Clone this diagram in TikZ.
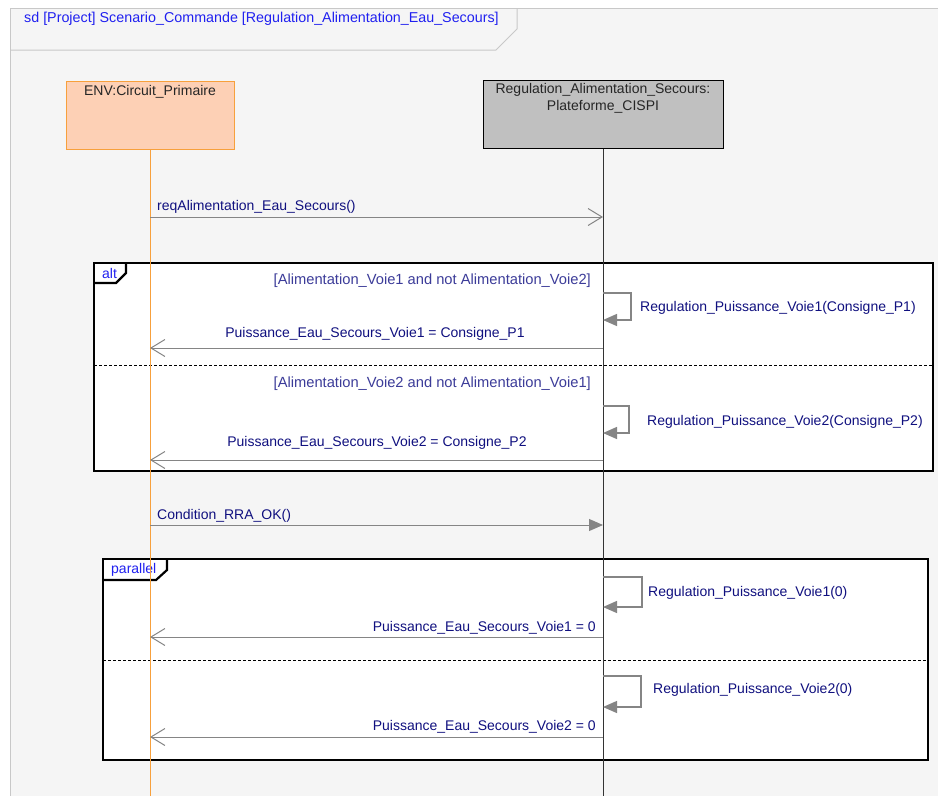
\documentclass[tikz,border=0pt]{standalone}
\usepackage{fontspec}
\setmainfont{Liberation Sans}
\usetikzlibrary{arrows.meta,positioning}

\definecolor{bggray}{HTML}{F5F5F5}
\definecolor{framegray}{HTML}{C8C8C8}
\definecolor{envfill}{HTML}{FDD0B5}
\definecolor{envorange}{HTML}{F7A03C}
\definecolor{regfill}{HTML}{C0C0C0}
\definecolor{msggray}{HTML}{858585}
\definecolor{msgblue}{HTML}{10107F}
\definecolor{guardblue}{HTML}{3C3C99}
\definecolor{tabblue}{HTML}{2020F0}

\tikzset{
    headbox/.style={draw, line width=1pt, minimum height=68pt, inner sep=0pt},
    headtext/.style={anchor=north, inner sep=0pt, align=center, text=black!85},
    msgtext/.style={inner sep=0pt, text=msgblue},
    guardtext/.style={inner sep=0pt, anchor=east, text=guardblue, font=\fontsize{14.7}{17}\selectfont},
    tabtext/.style={inner sep=0pt, anchor=west, text=tabblue},
    fragment/.style={draw=black, line width=2.2pt},
    separator/.style={draw=black, line width=0.7pt, dash pattern=on 3pt off 2pt},
    call/.style={draw=msggray, line width=1pt, -{Straight Barb[length=14pt,width=17pt]}},
    synccall/.style={draw=msggray, line width=1pt, -{Triangle[length=14pt,width=12pt]}},
    selfcall/.style={draw=msggray, line width=1.3pt, -{Triangle[length=14pt,width=12pt]}}
}

\begin{document}
\begin{tikzpicture}[x=1pt, y=-1pt, font=\fontsize{14}{17}\selectfont]
    \useasboundingbox[fill=white] (0,0) rectangle (938,796);
    % diagram frame
    \fill[bggray] (10,8) rectangle (938,796);
    \draw[framegray, line width=1pt] (938,8) -- (10,8) -- (10,796);
    \draw[framegray, line width=1pt] (10,50) -- (496,50) -- (517,29) -- (517,8);
    \node[tabtext, font=\fontsize{14.3}{17}\selectfont] (title) at (24,19) {sd [Project] Scenario\_Commande [Regulation\_Alimentation\_Eau\_Secours]};

    % combined fragments
    \draw[fragment, fill=white] (94,263) rectangle (933,471);
    \draw[fragment] (94,283) -- (116,283) -- (126,273) -- (126,263);
    \draw[separator] (94,365) -- (933,365);
    \node[tabtext] (alttab) at (102,273) {alt};

    \draw[fragment, fill=white] (103,559) rectangle (928,760);
    \draw[fragment] (103,580) -- (156,580) -- (167,570) -- (167,559);
    \draw[separator] (103,660) -- (928,660);
    \node[tabtext] (partab) at (111,570) {parallel};

    % lifelines
    \node[headbox, fill=envfill, draw=envorange, minimum width=168pt] (env) at (150,115) {};
    \node[headtext, below=5pt of env.north] (envname) {ENV:Circuit\_Primaire};
    \node[headbox, fill=regfill, minimum width=240pt] (reg) at (603,114) {};
    \node[headtext, below=4pt of reg.north] (regname) {Regulation\_Alimentation\_Secours:\\Plateforme\_CISPI};
    \coordinate (envend) at (150,796);
    \coordinate (regend) at (603,796);
    \draw[envorange, line width=1pt] (env) -- (envend);
    \draw[black!80, line width=0.8pt] (reg) -- (regend);

    % messages
    \draw[call] (env |- 0,217) -- (reg |- 0,217);
    \node[msgtext, anchor=west] (req) at (157,207) {reqAlimentation\_Eau\_Secours()};

    \node[guardtext] (guard1) at (591,281) {[Alimentation\_Voie1 and not Alimentation\_Voie2]};
    \node[guardtext] (guard2) at (591,384) {[Alimentation\_Voie2 and not Alimentation\_Voie1]};

    \foreach \ytop/\ybot/\xr in {293/320/631, 406/433/629, 577/607/642, 676/707/641} {
        \draw[selfcall] (reg |- 0,\ytop) -- (\xr,\ytop) -- (\xr,\ybot) -- (reg |- 0,\ybot);
    }
    \node[msgtext, anchor=west] (self1) at (640,308) {Regulation\_Puissance\_Voie1(Consigne\_P1)};
    \node[msgtext, anchor=west] (self2) at (647,422) {Regulation\_Puissance\_Voie2(Consigne\_P2)};
    \node[msgtext, anchor=west] (self3) at (648,593) {Regulation\_Puissance\_Voie1(0)};
    \node[msgtext, anchor=west] (self4) at (653,690) {Regulation\_Puissance\_Voie2(0)};

    \draw[call] (reg |- 0,348) -- (env |- 0,348);
    \node[msgtext] (rep1) at (375,334) {Puissance\_Eau\_Secours\_Voie1 = Consigne\_P1};
    \draw[call] (reg |- 0,460) -- (env |- 0,460);
    \node[msgtext] (rep2) at (377,443) {Puissance\_Eau\_Secours\_Voie2 = Consigne\_P2};

    \draw[synccall] (env |- 0,525) -- (reg |- 0,525);
    \node[msgtext, anchor=west] (rra) at (157,516) {Condition\_RRA\_OK()};

    \draw[call] (reg |- 0,637) -- (env |- 0,637);
    \node[msgtext, anchor=east] (rep3) at (596,628) {Puissance\_Eau\_Secours\_Voie1 = 0};
    \draw[call] (reg |- 0,737) -- (env |- 0,737);
    \node[msgtext, anchor=east] (rep4) at (596,727) {Puissance\_Eau\_Secours\_Voie2 = 0};
\end{tikzpicture}
\end{document}
